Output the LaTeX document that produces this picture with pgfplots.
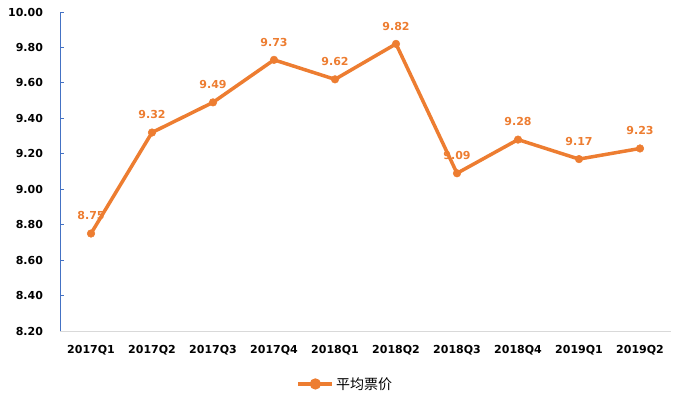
\documentclass[border=0pt]{standalone}
\usepackage{pgfplots}
\pgfplotsset{compat=1.18}
\usepackage{fontspec}
\setmainfont{DejaVu Sans}
\newfontfamily\cjk{Noto Sans CJK SC}
\definecolor{lineor}{HTML}{ED7D31}
\definecolor{axblue}{HTML}{4472C4}
\definecolor{axgray}{HTML}{D9D9D9}
\begin{document}
\begin{tikzpicture}
\path[use as bounding box] (-60.5bp,-68bp) rectangle (628.5bp,331bp);
\begin{axis}[
  scale only axis,
  width=610bp, height=319bp,
  xmin=-0.5, xmax=9.5,
  ymin=8.2, ymax=10.0,
  xtick={0,...,9},
  xticklabels={2017Q1,2017Q2,2017Q3,2017Q4,2018Q1,2018Q2,2018Q3,2018Q4,2019Q1,2019Q2},
  ytick={8.2,8.4,8.6,8.8,9.0,9.2,9.4,9.6,9.8,10.0},
  /pgf/number format/assume math mode=true,
  yticklabel style={/pgf/number format/fixed,/pgf/number format/fixed zerofill,/pgf/number format/precision=2},
  tick label style={font=\fontsize{11bp}{13bp}\selectfont\bfseries, text=black},
  axis x line=bottom, axis y line=left,
  x axis line style={draw=axgray, line width=1bp, -},
  y axis line style={draw=axblue, line width=1bp, -},
  xtick style={draw=none},
  ytick style={draw=axblue, line width=0.8bp},
  tick align=inside,
  major tick length=4bp,
  xticklabel style={yshift=-11bp},
  yticklabel style={xshift=-14bp},
  legend style={at={(0.467,-0.166)}, anchor=center, draw=none, fill=none,
    font=\cjk\fontsize{14bp}{16bp}\selectfont, legend columns=1},
  legend cell align=left,
  legend image code/.code={\draw[#1, line width=3.5bp] (0bp,0bp) -- (34bp,0bp); \fill[lineor] (17bp,0bp) circle (3.8bp);},
  clip=false,
]
\addplot[color=lineor, line width=3.5bp, mark=*, mark size=3.8bp, mark options={fill=lineor, draw=lineor, line width=0.5bp},
  nodes near coords, point meta=explicit symbolic,
  every node near coord/.append style={font=\fontsize{11bp}{13bp}\selectfont\bfseries, text=lineor, anchor=south, yshift=10bp}]
 table[meta=lab] {
x y lab
0 8.75 8.75
1 9.32 9.32
2 9.49 9.49
3 9.73 9.73
4 9.62 9.62
5 9.82 9.82
6 9.09 9.09
7 9.28 9.28
8 9.17 9.17
9 9.23 9.23
};
\addlegendentry{平均票价}
\end{axis}
\end{tikzpicture}
\end{document}
